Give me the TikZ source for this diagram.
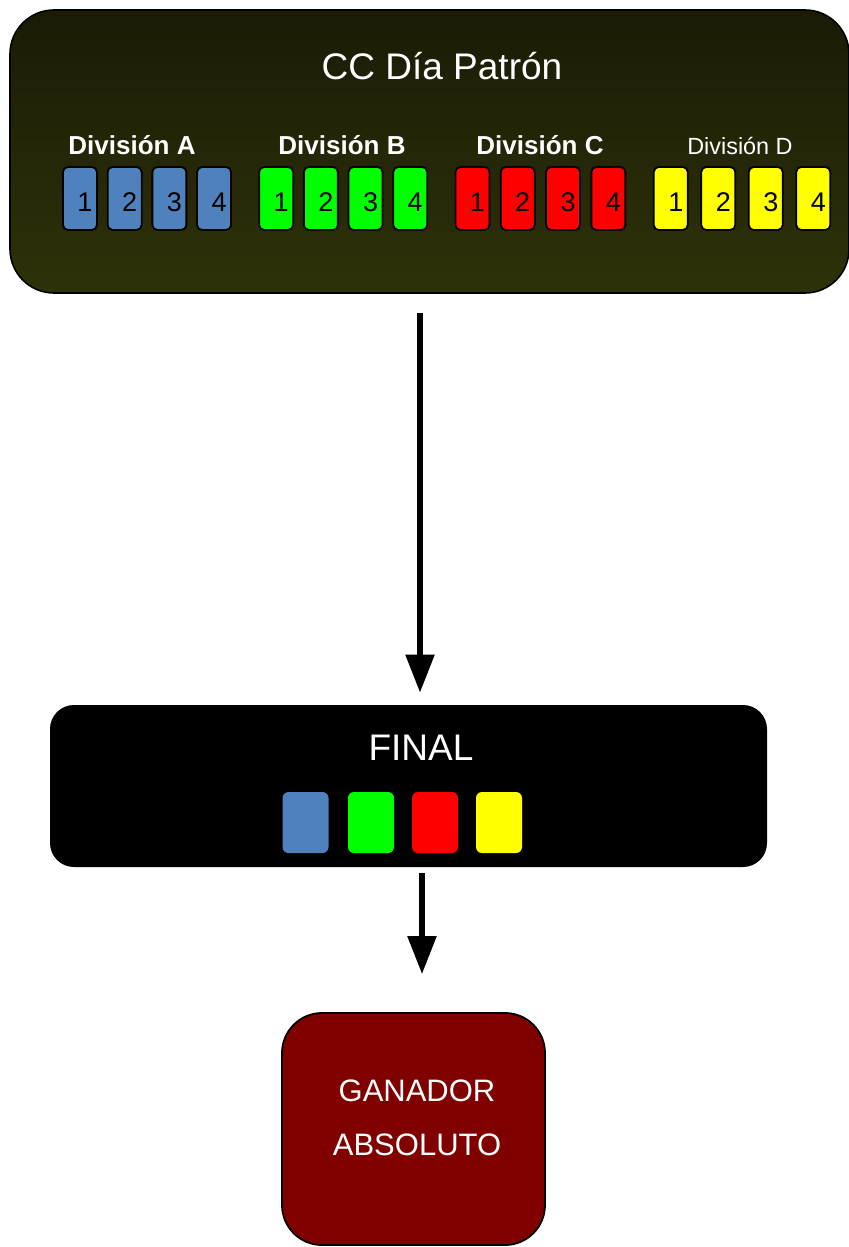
\documentclass[tikz,border=0pt]{standalone}
\usepackage{fontspec}
\setmainfont{Liberation Sans}
\usetikzlibrary{arrows.meta}

\definecolor{divA}{RGB}{79,129,189}
\definecolor{divB}{RGB}{0,255,0}
\definecolor{divC}{RGB}{255,0,0}
\definecolor{divD}{RGB}{255,255,0}
\definecolor{olivaarriba}{RGB}{27,27,6}
\definecolor{olivaabajo}{RGB}{46,50,9}
\definecolor{granate}{RGB}{128,0,0}

\begin{document}
\begin{tikzpicture}[x=0.5pt, y=-0.5pt,
    equipo/.style = {draw=black, line width=0.9pt, rounded corners=2.5pt,
      minimum width=17pt, minimum height=31.5pt, inner sep=0pt,
      text height=12.7pt, text depth=0pt,
      execute at begin node={\hspace*{5pt}},
      font=\fontsize{13.5}{16}\selectfont},
    ficha/.style = {rounded corners=3pt, minimum width=23pt,
      minimum height=30.5pt, inner sep=0pt},
    titulo/.style = {text=white, inner sep=0pt, anchor=base},
    flecha/.style = {line width=2.75pt, -{Triangle[width=14pt,length=19pt]}}]

    \useasboundingbox (0,0) rectangle (849,1247);



    \node[draw=black, line width=0.8pt, rounded corners=22pt,
      top color=olivaarriba, bottom color=olivaabajo,
      minimum width=419.5pt, minimum height=141.5pt] (patron) at (429.5,151.5) {};

    \node[titulo, font=\fontsize{18.5}{22}\selectfont] (cctitulo) at (442,80)
    {CC Día Patrón};



    \node[titulo, font=\bfseries\fontsize{13}{16}\selectfont] (labelA) at (132,155) {División A};

    \node[titulo, font=\bfseries\fontsize{13}{16}\selectfont] (labelB) at (342,155) {División B};

    \node[titulo, font=\bfseries\fontsize{13}{16}\selectfont] (labelC) at (540,155) {División C};

    \node[titulo, font=\fontsize{11.7}{14}\selectfont] (labelD) at (740,155) {División D};



    \foreach \d/\cx/\paso in {A/147/44.7, B/343.2/44.7, C/540.4/45.3, D/742/47.5}
      \foreach \n in {1,...,4}
        \node[equipo, fill=div\d] (\d\n) at ({\cx + (\n - 2.5) * \paso}, 198.5) {\n};



    \node[fill=black, rounded corners=12pt, minimum width=358.5pt,
      minimum height=81pt] (final) at (408.5,786) {};

    \node[titulo, font=\fontsize{18.5}{22}\selectfont] (finaltitulo) at (421,760) {FINAL};

    \foreach \d/\fx in {A/305.5, B/371, C/435, D/499}
      \node[ficha, fill=div\d] (ficha\d) at (\fx,822.5) {};



    \node[draw=black, line width=0.9pt, fill=granate, rounded corners=20pt,
      minimum width=131.5pt, minimum height=116pt] (ganador) at (413.5,1129) {};

    \node[text=white, align=center, font=\fontsize{15.5}{27}\selectfont]
    (ganadortxt) at (417,1118) {GANADOR\\ABSOLUTO};



    \coordinate (eje) at (420,0);

    \coordinate (eje2) at (422,0);

    \draw[flecha, shorten <=9.5pt, shorten >=6pt] (patron.south -| eje) -- (final.north -| eje);

    \draw[flecha, shorten <=3pt, shorten >=19pt] (final.south -| eje2) -- (ganador.north -| eje2);
  \end{tikzpicture}
\end{document}
